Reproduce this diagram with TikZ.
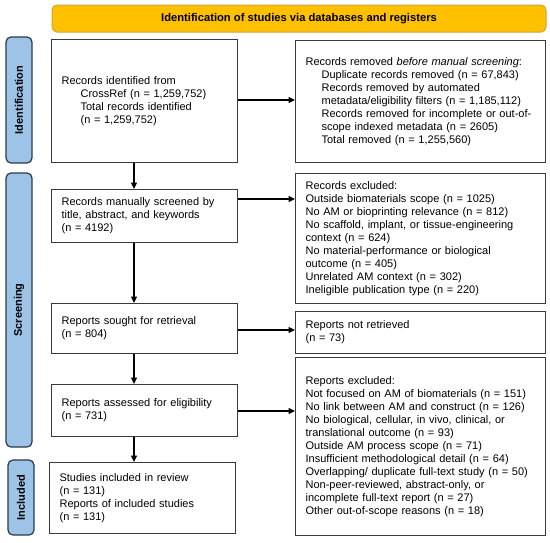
\documentclass[tikz,border=0pt]{standalone}
\usepackage{fontspec}
\setmainfont{Liberation Sans}
\usetikzlibrary{arrows.meta}
\definecolor{bannerfill}{HTML}{FFC000}
\definecolor{bannerline}{HTML}{CFA23A}
\definecolor{phasefill}{HTML}{9DC3E6}
\definecolor{phaseline}{HTML}{2B3A4A}
\definecolor{boxline}{HTML}{3A3A3A}
\begin{document}
\begin{tikzpicture}[x=1pt,y=-1pt,
  font=\fontsize{11}{13}\selectfont,
  flowbox/.style 2 args={draw=boxline, line width=1.2pt, fill=white,
    align=left, anchor=north west, inner xsep=10pt, inner ysep=0pt,
    text width=#1, minimum height=#2},
  phase/.style={draw=phaseline, line width=1.2pt, fill=phasefill,
    rounded corners=5pt, rotate=90, minimum height=26pt, inner sep=0pt,
    font=\fontsize{11}{13}\selectfont\bfseries},
  arr/.style={draw=black, line width=1.2pt, -{Triangle[length=6.5pt,width=6pt]}}
]
\useasboundingbox (0,0) rectangle (550,542);

% banner
\node[draw=bannerline, line width=1pt, fill=bannerfill, rounded corners=5pt,
  minimum width=494pt, minimum height=27pt, inner sep=0pt,
  font=\fontsize{11.2}{13}\selectfont\bfseries] (banner) at (299,18.5)
  {Identification of studies via databases and registers};

% phase labels
\node[phase, minimum width=126pt] (pid) at (19,100) {Identification};
\node[phase, minimum width=274pt] (pscr) at (19,310) {Screening};
\node[phase, minimum width=75pt] (pinc) at (21,497.5) {Included};

% left column
\node[flowbox={166pt}{123pt}] (b1) at (51,39)
  {Records identified from\\
   \hspace*{19pt}CrossRef (n = 1,259,752)\\
   \hspace*{19pt}Total records identified\\
   \hspace*{19pt}(n = 1,259,752)};
\node[flowbox={166pt}{53pt}] (b2) at (51,189)
  {Records manually screened by\\
   title, abstract, and keywords\\
   (n = 4192)};
\node[flowbox={166pt}{50pt}] (b3) at (51,303)
  {Reports sought for retrieval\\
   (n = 804)};
\node[flowbox={166pt}{52pt}] (b4) at (51,384)
  {Reports assessed for eligibility\\
   (n = 731)};
\node[flowbox={166pt}{71pt}] (b5) at (49,462)
  {Studies included in review\\
   (n = 131)\\
   Reports of included studies\\
   (n = 131)};

% right column
\node[flowbox={230pt}{122pt}] (r1) at (295,40)
  {Records removed \textit{before manual screening}:\\
   \hspace*{16pt}Duplicate records removed (n = 67,843)\\
   \hspace*{16pt}Records removed by automated\\
   \hspace*{16pt}metadata/eligibility filters (n = 1,185,112)\\
   \hspace*{16pt}Records removed for incomplete or out-of-\\
   \hspace*{16pt}scope indexed metadata (n = 2605)\\
   \hspace*{16pt}Total removed (n = 1,255,560)};
\node[flowbox={230pt}{130pt}] (r2) at (295,173)
  {Records excluded:\\
   Outside biomaterials scope (n = 1025)\\
   No AM or bioprinting relevance (n = 812)\\
   No scaffold, implant, or tissue-engineering\\
   context (n = 624)\\
   No material-performance or biological\\
   outcome (n = 405)\\
   Unrelated AM context (n = 302)\\
   Ineligible publication type (n = 220)};
\node[flowbox={230pt}{42pt}] (r3) at (295,311)
  {Reports not retrieved\\
   (n = 73)};
\node[flowbox={230pt}{178pt}] (r4) at (295,357)
  {Reports excluded:\\
   Not focused on AM of biomaterials (n = 151)\\
   No link between AM and construct (n = 126)\\
   No biological, cellular, in vivo, clinical, or\\
   translational outcome (n = 93)\\
   Outside AM process scope (n = 71)\\
   Insufficient methodological detail (n = 64)\\
   Overlapping/ duplicate full-text study (n = 50)\\
   Non-peer-reviewed, abstract-only, or\\
   incomplete full-text report (n = 27)\\
   Other out-of-scope reasons (n = 18)};

% connector guides
\coordinate (ax) at (134,0);
\coordinate (y1) at (0,100);
\coordinate (y2) at (0,199);
\coordinate (y3) at (0,330);
\coordinate (y4) at (0,411);

% vertical arrows
\draw[arr] (b1.south -| ax) -- (b2.north -| ax);
\draw[arr] (b2.south -| ax) -- (b3.north -| ax);
\draw[arr] (b3.south -| ax) -- (b4.north -| ax);
\draw[arr] (b4.south -| ax) -- (b5.north -| ax);

% horizontal arrows
\draw[arr] (b1.east |- y1) -- (r1.west |- y1);
\draw[arr] (b2.east |- y2) -- (r2.west |- y2);
\draw[arr] (b3.east |- y3) -- (r3.west |- y3);
\draw[arr] (b4.east |- y4) -- (r4.west |- y4);
\end{tikzpicture}
\end{document}
